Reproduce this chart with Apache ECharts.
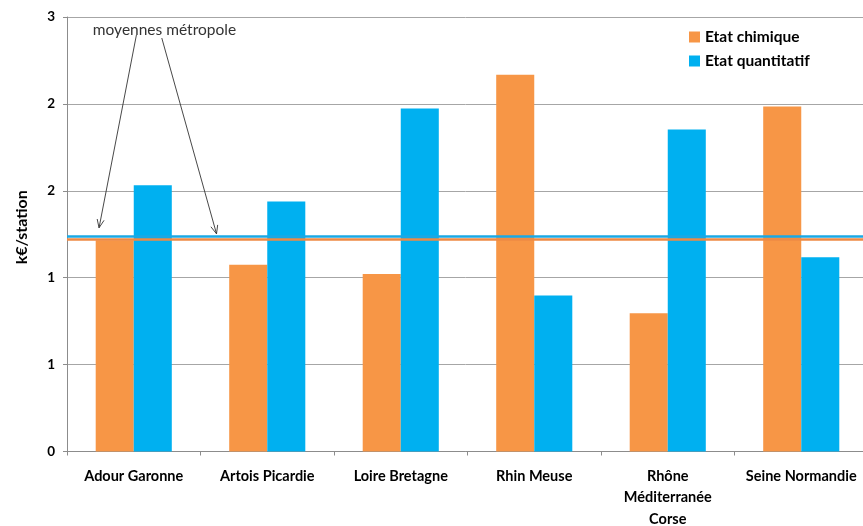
<!DOCTYPE html>
<html>
<head>
<meta charset="utf-8">
<script src="https://cdn.jsdelivr.net/npm/echarts@6/dist/echarts.min.js"></script>
<style>
  html, body { margin: 0; padding: 0; background: #fff; }
  #chart { width: 863px; height: 526px; }
</style>
</head>
<body>
<div id="chart"></div>
<script>
// Coût moyen par station (k€) selon le bassin
const categories = ['Adour Garonne', 'Artois Picardie', 'Loire Bretagne', 'Rhin Meuse', 'Rhône\nMéditerranée\nCorse', 'Seine Normandie'];
const etatChimique = [1.215, 1.075, 1.022, 2.168, 0.796, 1.985];
const etatQuantitatif = [1.532, 1.438, 1.974, 0.897, 1.853, 1.118];
// Moyennes métropole
const moyenneChimique = 1.216;
const moyenneQuantitatif = 1.241;
// Graduations de l'axe des ordonnées (pas de 0,5, libellés arrondis)
const yTickLabels = ['0', '1', '1', '2', '2', '3'];
const yStep = 0.5;

const FONT = 'Lato';
const ORANGE = '#F79646';
const BLUE = '#00B0F0';

const chart = echarts.init(document.getElementById('chart'), null, { renderer: 'canvas' });

const option = {
  animation: false,
  backgroundColor: '#fff',
  textStyle: { fontFamily: FONT },
  grid: { left: 67, top: 17, bottom: 74.5, width: 801, containLabel: false, outerBoundsMode: 'none' },
  legend: {
    orient: 'vertical',
    left: 684,
    top: 24,
    itemWidth: 11,
    itemHeight: 11,
    itemGap: 8,
    icon: 'rect',
    textStyle: { fontFamily: FONT, fontSize: 15.5, lineHeight: 16, fontWeight: 'bold', color: '#000' },
    data: ['Etat chimique', 'Etat quantitatif']
  },
  xAxis: {
    type: 'category',
    data: categories,
    axisLine: { lineStyle: { color: '#8c8c8c', width: 1 } },
    axisTick: { show: true, length: 4, alignWithLabel: false, lineStyle: { color: '#8c8c8c' } },
    axisLabel: {
      interval: 0,
      margin: 14,
      fontFamily: FONT,
      fontSize: 14.5,
      fontWeight: 'bold',
      color: '#000',
      lineHeight: 21.5
    }
  },
  yAxis: {
    type: 'value',
    min: 0,
    max: 2.5,
    interval: yStep,
    name: 'k€/station',
    nameLocation: 'middle',
    nameGap: 37,
    nameTextStyle: { fontFamily: FONT, fontSize: 16, fontWeight: 'bold', color: '#000', padding: [0, 0, 0, 14] },
    axisLine: { show: true, lineStyle: { color: '#8c8c8c', width: 1 } },
    axisTick: { show: true, length: 4, lineStyle: { color: '#8c8c8c' } },
    splitLine: { lineStyle: { color: '#a6a6a6', width: 1 } },
    axisLabel: {
      margin: 12,
      fontFamily: FONT,
      fontSize: 13.5,
      fontWeight: 'bold',
      color: '#000',
      formatter: v => yTickLabels[Math.round(v / yStep)]
    }
  },
  series: [
    {
      name: 'Etat chimique',
      type: 'bar',
      data: etatChimique,
      barGap: '0%',
      barCategoryGap: '43%',
      itemStyle: { color: ORANGE },
      markLine: {
        silent: true,
        symbol: 'none',
        label: { show: false },
        lineStyle: { color: '#EE8A45', width: 2.5, type: 'solid' },
        data: [{ yAxis: moyenneChimique }]
      }
    },
    {
      name: 'Etat quantitatif',
      type: 'bar',
      data: etatQuantitatif,
      itemStyle: { color: BLUE },
      markLine: {
        silent: true,
        symbol: 'none',
        label: { show: false },
        lineStyle: { color: '#1BA8E4', width: 2.5, type: 'solid' },
        data: [{ yAxis: moyenneQuantitatif }]
      }
    }
  ]
};

chart.setOption(option);

// Annotation « moyennes métropole » avec deux flèches vers les lignes de moyenne
function arrow(x1, y1, x2, y2) {
  const ang = Math.atan2(y2 - y1, x2 - x1);
  const len = 9, spread = 0.4;
  const a1 = [x2 - len * Math.cos(ang - spread), y2 - len * Math.sin(ang - spread)];
  const a2 = [x2 - len * Math.cos(ang + spread), y2 - len * Math.sin(ang + spread)];
  return [
    { type: 'line', shape: { x1, y1, x2, y2 }, style: { stroke: '#333', lineWidth: 0.9 }, z: 100 },
    { type: 'polyline', shape: { points: [a1, [x2, y2], a2] }, style: { stroke: '#333', lineWidth: 0.9, fill: null }, z: 100 }
  ];
}

const c0 = chart.convertToPixel({ xAxisIndex: 0 }, categories[0]);
const c1 = chart.convertToPixel({ xAxisIndex: 0 }, categories[1]);
const band = c1 - c0;
const yBlue = chart.convertToPixel({ yAxisIndex: 0 }, moyenneQuantitatif);
const yTop = chart.convertToPixel({ yAxisIndex: 0 }, 2.5);

const textX = c0 + 0.23 * band;
const textY = yTop + 13;

chart.setOption({
  graphic: [
    {
      type: 'text',
      x: textX,
      y: textY,
      style: { text: 'moyennes métropole', fontFamily: FONT, fontSize: 15.5, fill: '#333', align: 'center', verticalAlign: 'middle' },
      z: 100
    },
    ...arrow(c0 + 0.02 * band, textY + 5, c0 - 0.26 * band, yBlue - 8),
    ...arrow(c0 + 0.21 * band, textY + 8, c0 + 0.62 * band, yBlue - 2)
  ]
});
</script>
</body>
</html>
